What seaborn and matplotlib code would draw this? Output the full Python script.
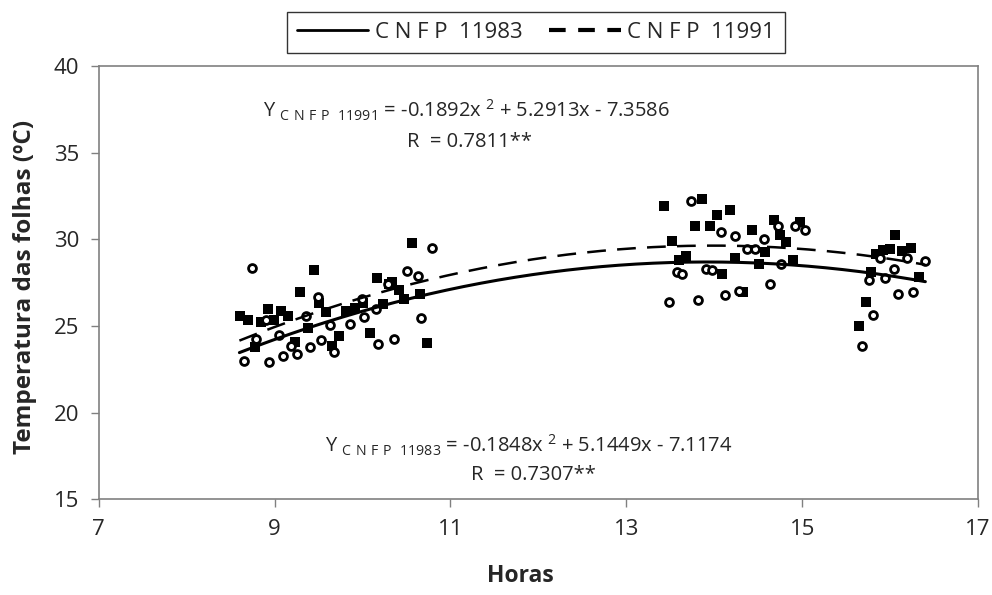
import numpy as np
import pandas as pd
import matplotlib
matplotlib.use('Agg')
import matplotlib.pyplot as plt
import seaborn as sns
from matplotlib.lines import Line2D

# CNFP 11991 observations (filled squares)
horas_11991 = [8.61, 8.70, 8.84, 8.93, 8.99, 9.07, 9.15, 8.78, 9.29, 9.45,
               9.23, 9.38, 9.51, 9.58, 9.65, 9.73, 9.81, 9.91, 10.00, 10.08,
               10.16, 10.23, 10.30, 10.33, 10.41, 10.47, 10.56, 10.65, 10.73,
               13.43, 13.86, 14.03, 14.18, 13.78, 13.95, 13.52, 13.68, 13.60, 14.09,
               14.24, 14.33, 14.43, 14.51, 14.58, 14.68, 14.75, 14.81, 14.89, 14.98,
               16.06, 15.92, 16.00, 15.84, 16.14, 16.24, 15.78, 16.33, 15.73, 15.65]
temp_11991 = [25.58, 25.33, 25.24, 25.97, 25.37, 25.84, 25.57, 23.76, 26.95, 28.22,
              24.05, 24.87, 26.33, 25.80, 23.83, 24.41, 25.84, 26.03, 26.30, 24.62,
              27.78, 26.26, 27.41, 27.51, 27.07, 26.55, 29.80, 26.82, 24.03,
              31.90, 32.32, 31.40, 31.69, 30.78, 30.74, 29.90, 29.05, 28.82, 28.01,
              28.93, 26.95, 30.53, 28.55, 29.28, 31.09, 30.24, 29.86, 28.82, 30.99,
              30.24, 29.40, 29.43, 29.13, 29.34, 29.51, 28.12, 27.80, 26.37, 24.99]

# CNFP 11983 observations (open circles)
horas_11983 = [8.74, 8.65, 8.79, 8.90, 8.94, 9.05, 9.10, 9.19, 9.25, 9.36,
               9.40, 9.49, 9.53, 9.63, 9.68, 9.86, 9.99, 10.02, 10.15, 10.18,
               10.29, 10.36, 10.51, 10.63, 10.66, 10.79,
               13.74, 13.48, 13.58, 13.63, 13.81, 13.91, 13.97, 14.08, 14.12, 14.23,
               14.28, 14.37, 14.46, 14.56, 14.63, 14.73, 14.76, 14.92, 15.03,
               15.89, 16.19, 16.40, 16.04, 15.76, 15.94, 16.09, 16.26, 15.80, 15.68]
temp_11983 = [28.36, 22.99, 24.22, 25.37, 22.91, 24.49, 23.27, 23.83, 23.37, 25.58,
              23.78, 26.68, 24.20, 25.03, 23.49, 25.10, 26.53, 25.53, 25.99, 23.97,
              27.41, 24.26, 28.15, 27.86, 25.47, 29.51,
              32.19, 26.41, 28.11, 27.99, 26.51, 28.26, 28.20, 30.45, 26.80, 30.20,
              27.01, 29.43, 29.42, 30.00, 27.43, 30.74, 28.55, 30.74, 30.55,
              28.90, 28.95, 28.76, 28.26, 27.64, 27.78, 26.82, 26.95, 25.61, 23.83]

# quadratic trend coefficients as printed on the chart
coef_11983 = [-0.1848, 5.1449, -7.1174]
coef_11991 = [-0.1892, 5.2913, -7.3586]
hora_ini, hora_fim = 8.6, 16.4

sns.set_style('white')
plt.rcParams['font.family'] = ['Open Sans', 'DejaVu Sans']
plt.rcParams['mathtext.fontset'] = 'custom'
plt.rcParams['mathtext.rm'] = 'Open Sans'

fig, ax = plt.subplots(figsize=(9.92, 5.95), dpi=100)
fig.subplots_adjust(left=0.0995, right=0.986, top=0.889, bottom=0.161)

sns.scatterplot(x=horas_11991, y=temp_11991, marker='s', s=55, color='black',
                edgecolor='black', linewidth=0, ax=ax, zorder=3)
sns.scatterplot(x=horas_11983, y=temp_11983, marker='o', s=32, facecolor='white',
                edgecolor='black', linewidth=2, ax=ax, zorder=3)

xs = np.linspace(hora_ini, hora_fim, 200)
sns.lineplot(x=xs, y=np.polyval(coef_11983, xs), color='black', lw=2.2, ax=ax, zorder=4)
sns.lineplot(x=xs, y=np.polyval(coef_11991, xs), color='black', lw=1.8,
             linestyle=(0, (7.5, 4.5)), ax=ax, zorder=4)

ax.set_xlim(7, 17)
ax.set_ylim(15, 40)
ax.set_xticks([7, 9, 11, 13, 15, 17])
ax.set_yticks([15, 20, 25, 30, 35, 40])
ax.tick_params(axis='both', labelsize=16, direction='out', length=6,
               width=1, color='#808080', bottom=True, left=True, pad=8)
for sp in ax.spines.values():
    sp.set_color('#808080')
    sp.set_linewidth(1.2)

ax.set_xlabel('Horas', fontsize=16.5, fontweight='bold', va='center')
ax.xaxis.set_label_coords(0.479, -0.178)
ax.set_ylabel('Temperatura das folhas (ºC)', fontsize=17.5, fontweight='bold', va='center')
ax.yaxis.set_label_coords(-0.084, 0.49)

eq_kw = dict(transform=ax.transAxes, fontsize=14.5, va='center')
ax.text(0.187, 0.898,
        r'Y $_{\mathrm{C\ N\ F\ P\ \ 11991}}$ = -0.1892x$^{\ \mathrm{2}}$ + 5.2913x - 7.3586',
        ha='left', **eq_kw)
ax.text(0.422, 0.824, 'R  = 0.7811**', ha='center', **eq_kw)
ax.text(0.257, 0.125,
        r'Y $_{\mathrm{C\ N\ F\ P\ \ 11983}}$ = -0.1848x$^{\ \mathrm{2}}$ + 5.1449x - 7.1174',
        ha='left', **eq_kw)
ax.text(0.494, 0.055, 'R  = 0.7307**', ha='center', **eq_kw)

handles = [Line2D([], [], color='black', lw=2),
           Line2D([], [], color='black', lw=3, linestyle=(0, (4, 3)))]
leg = fig.legend(handles, ['C N F P  11983', 'C N F P  11991'], loc='center',
                 bbox_to_anchor=(0.5405, 0.945), ncol=2, fontsize=16, frameon=True,
                 fancybox=False, edgecolor='black', handlelength=3.2,
                 handletextpad=0.3, columnspacing=1.2, borderpad=0.45)
leg.get_frame().set_linewidth(1.0)

fig.savefig('out.png', dpi=100)
